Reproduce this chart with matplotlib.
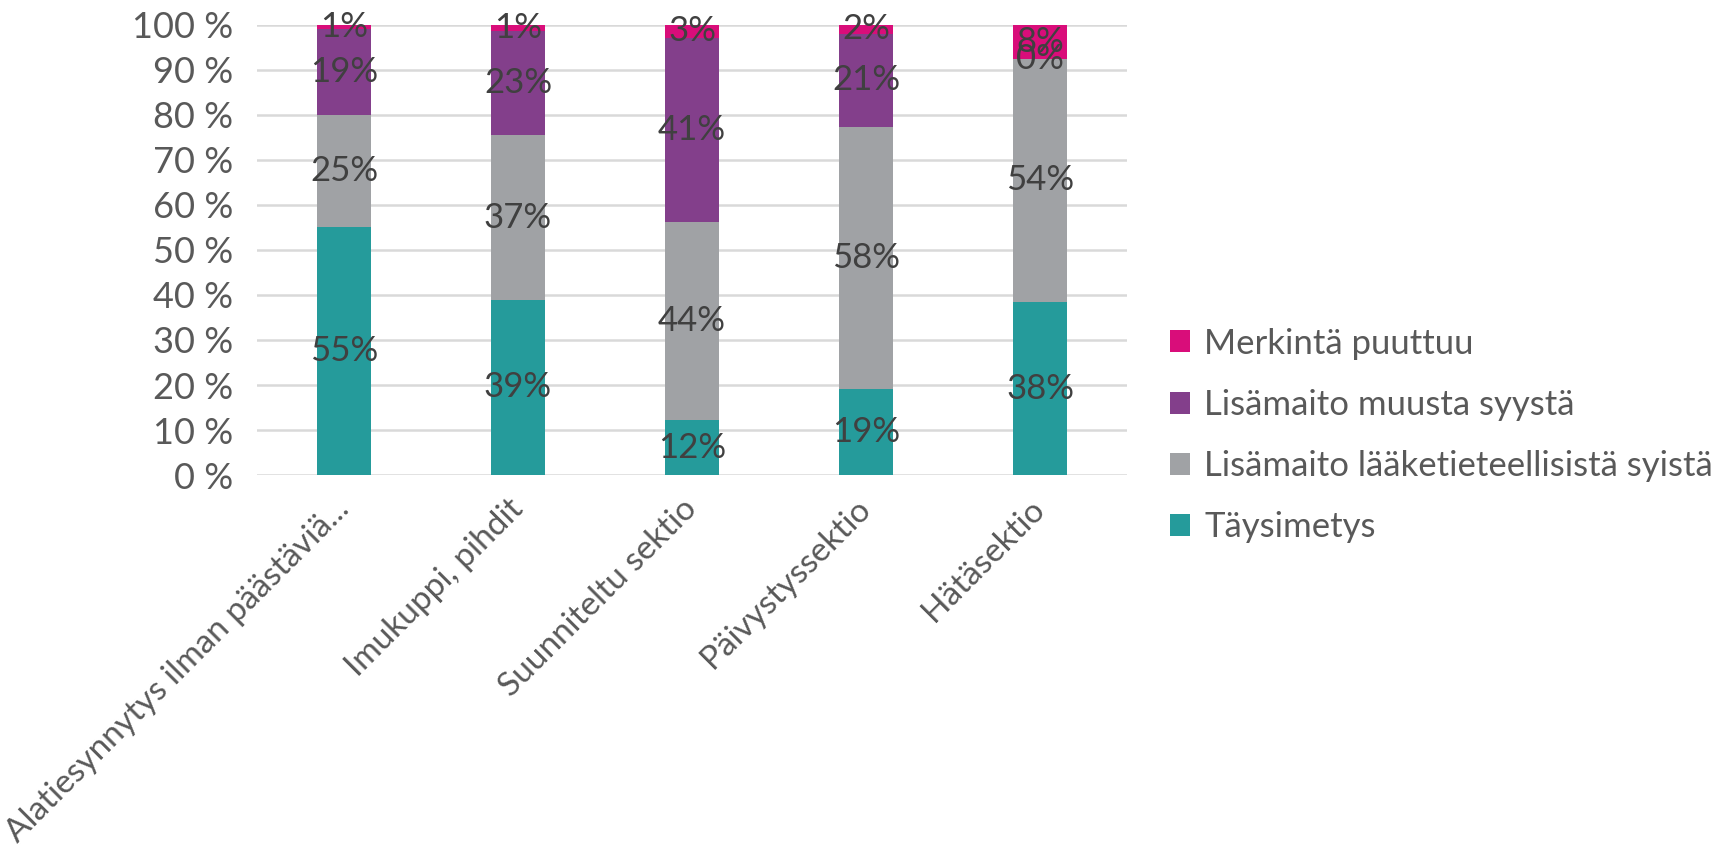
import matplotlib.pyplot as plt
import numpy as np

plt.rcParams['font.family'] = ['Lato', 'DejaVu Sans']

categories = ['Alatiesynnytys ilman päästäviä...', 'Imukuppi, pihdit',
              'Suunniteltu sektio', 'Päivystyssektio', 'Hätäsektio']
series_names = ['Täysimetys', 'Lisämaito lääketieteellisistä syistä',
                'Lisämaito muusta syystä', 'Merkintä puuttuu']
taysimetys = [55.0, 38.9, 12.2, 19.2, 38.4]
laaketiet = [25.0, 36.6, 44.0, 58.2, 54.1]
muu_syy = [19.0, 23.2, 40.9, 20.6, 0.0]
puuttuu = [1.0, 1.3, 2.9, 2.0, 7.5]
colors = ['#259B9B', '#A0A2A5', '#833F8B', '#D90D7A']

fig = plt.figure(figsize=(17.16, 8.49), dpi=100)
ax = fig.add_axes([0.1498, 0.4405, 0.5070, 0.5301])

x = np.arange(len(categories))
bottom = np.zeros(len(categories))
handles = []
for name, vals, col in zip(series_names, [taysimetys, laaketiet, muu_syy, puuttuu], colors):
    vals = np.array(vals)
    bars = ax.bar(x, vals, 0.315, bottom=bottom, color=col, label=name, zorder=2)
    handles.append(bars)
    for xi, b, v in zip(x, bottom, vals):
        ax.text(xi, b + v / 2, f'{v:.0f}%', ha='center', va='center',
                fontsize=25, color='#404040', zorder=3)
    bottom += vals

ax.set_xlim(-0.5, len(categories) - 0.5)
ax.set_ylim(0, 100)
ax.set_yticks(np.arange(0, 101, 10))
ax.set_yticklabels([f'{v} %' for v in range(0, 101, 10)])
ax.yaxis.grid(True, color='#D9D9D9', linewidth=1.8, zorder=0)
ax.set_axisbelow(True)
for s in ax.spines.values():
    s.set_visible(False)
ax.tick_params(axis='both', length=0, labelsize=26, colors='#595959')
ax.tick_params(axis='y', pad=17)
ax.tick_params(axis='x', pad=21, labelsize=24)
ax.set_xticks(x)
ax.set_xticklabels(categories, rotation=45, ha='right', va='center',
                   rotation_mode='anchor')

leg = ax.legend(handles[::-1], series_names[::-1], loc='center left',
                bbox_to_anchor=(1.013, 0.088), frameon=False, fontsize=25,
                handlelength=0.6, handleheight=0.6, handletextpad=0.4,
                labelspacing=0.84, labelcolor='#595959')

plt.savefig('out.png', dpi=100)
